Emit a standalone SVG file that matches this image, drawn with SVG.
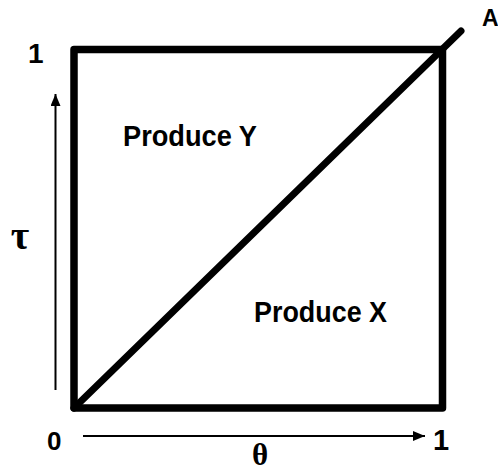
<svg xmlns="http://www.w3.org/2000/svg" width="498" height="471" viewBox="0 0 498 471">
<style>
.t{font-family:"Liberation Sans",Arial,sans-serif;font-weight:bold;fill:#000}
.g{font-family:"Liberation Serif","Times New Roman",serif;font-weight:bold;fill:#000}
.thin{stroke:#000;stroke-width:2;fill:none}
</style>
<defs>
<marker id="ah" viewBox="0 0 12 10" refX="12" refY="5" markerWidth="12" markerHeight="10" markerUnits="userSpaceOnUse" orient="auto">
<path d="M0,0 L12,5 L0,10 Z" fill="#000"/>
</marker>
</defs>
<rect width="498" height="471" fill="#fff"/>
<g id="square">
<rect x="74" y="49.5" width="368.5" height="358.5" fill="none" stroke="#000" stroke-width="7.5" stroke-linejoin="round"/>
</g>
<g id="connectors">
<line x1="74" y1="408" x2="461" y2="31" stroke="#000" stroke-width="7" stroke-linecap="round"/>
<line class="thin" x1="55.5" y1="390" x2="55.5" y2="94" marker-end="url(#ah)"/>
<line class="thin" x1="83" y1="436" x2="425" y2="436" marker-end="url(#ah)"/>
</g>
<g id="labels">
<text class="t" x="123" y="146" font-size="29" textLength="134" lengthAdjust="spacingAndGlyphs">Produce Y</text>
<text class="t" x="254" y="322" font-size="29" textLength="133" lengthAdjust="spacingAndGlyphs">Produce X</text>
<text class="t" x="482" y="26" font-size="23">A</text>
<text class="t" x="28" y="63" font-size="28">1</text>
<text class="t" x="47" y="450" font-size="26">0</text>
<text class="t" x="433" y="450" font-size="29">1</text>
<text class="g" x="20" y="249" font-size="40" text-anchor="middle">τ</text>
<text class="g" x="260" y="465" font-size="31" text-anchor="middle">θ</text>
</g>
</svg>
